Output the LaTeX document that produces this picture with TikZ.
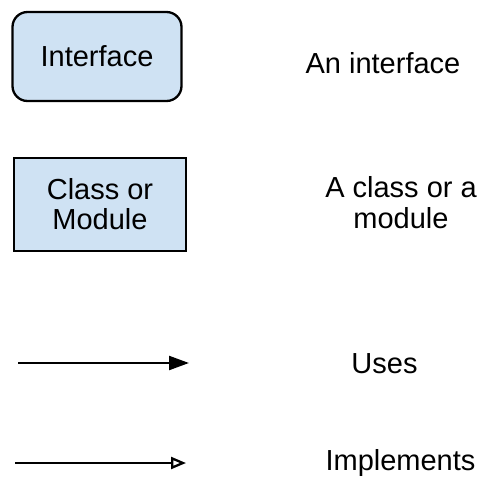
\documentclass[tikz,border=0pt]{standalone}
\usepackage{fontspec}
\setmainfont{Liberation Sans}
\usetikzlibrary{arrows.meta}
\definecolor{boxfill}{HTML}{CFE2F3}
\begin{document}
\begin{tikzpicture}[x=1pt,y=-1pt,
  every node/.style={font=\fontsize{29}{30}\selectfont},
  legendbox/.style={draw=black, line width=2.3pt, fill=boxfill, align=center, inner sep=0pt},
  legendtext/.style={anchor=base, align=center, inner sep=0pt},
  usesarrow/.style={line width=2.3pt, -{Triangle[length=20pt,width=14pt]}},
  implarrow/.style={line width=2.3pt, -{Triangle[open,length=15pt,width=12pt,line width=2.3pt]}}]
  \useasboundingbox (0,0) rectangle (483,480);

  % legend symbols
  \node[legendbox, rounded corners=15pt, minimum width=169pt, minimum height=89pt] (iface) at (97,56.5) {Interface};
  \node[legendbox, minimum width=172pt, minimum height=93pt] (cls) at (100,204.5) {Class or\\Module};

  \coordinate (usesA) at (18,363);
  \coordinate (usesB) at (189,363);
  \draw[usesarrow] (usesA) -- (usesB);

  \coordinate (implA) at (15,463);
  \coordinate (implB) at (186,463);
  \draw[implarrow] (implA) -- (implB);

  % descriptions
  \node[legendtext] (d1) at (383,73) {An interface};
  \node[legendtext, anchor=north] (d2) at (401,176) {A class or a\\[1pt]module};
  \node[legendtext] (d3) at (384.5,373) {Uses};
  \node[legendtext] (d4) at (400.5,470) {Implements};
\end{tikzpicture}
\end{document}
